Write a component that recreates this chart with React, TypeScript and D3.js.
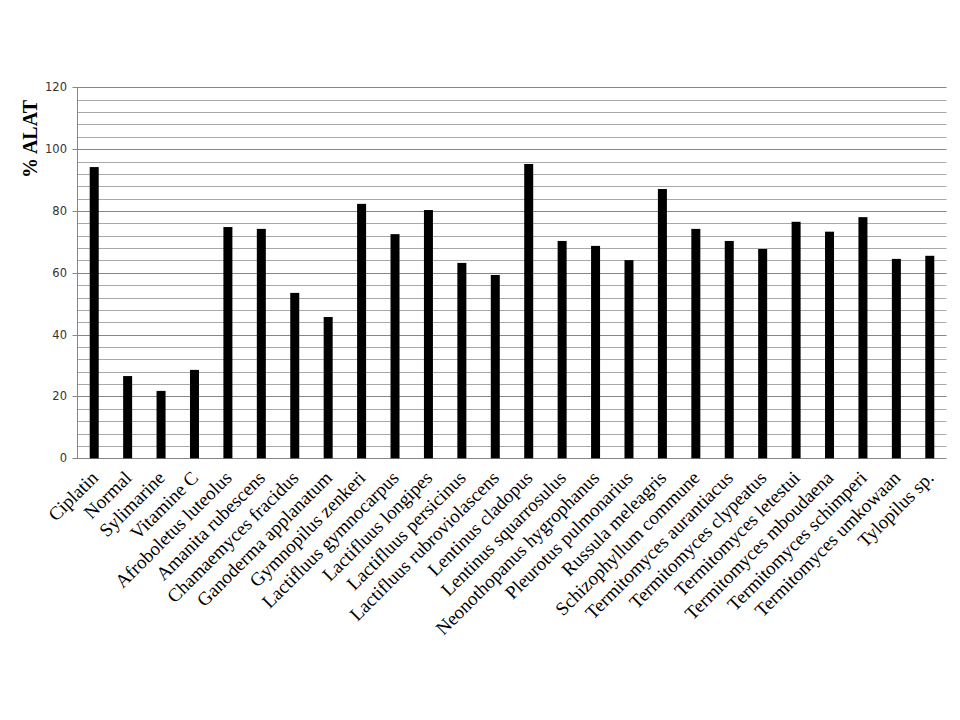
import React from "react";
import * as d3 from "d3";

const categories = [
  "Ciplatin", "Normal", "Sylimarine", "Vitamine C", "Afroboletus luteolus",
  "Amanita rubescens", "Chamaemyces fracidus", "Ganoderma applanatum",
  "Gymnopilus zenkeri", "Lactifluus gymnocarpus", "Lactifluus longipes",
  "Lactifluus persicinus", "Lactifluus rubroviolascens", "Lentinus cladopus",
  "Lentinus squarrosulus", "Neonothopanus hygrophanus", "Pleurotus pulmonarius",
  "Russula meleagris", "Schizophyllum commune", "Termitomyces aurantiacus",
  "Termitomyces clypeatus", "Termitomyces letestui", "Termitomyces mboudaena",
  "Termitomyces schimperi", "Termitomyces umkowaan", "Tylopilus sp.",
];

const values = [
  94.2, 26.6, 21.8, 28.6, 74.8, 74.2, 53.5, 45.7, 82.3, 72.5, 80.3, 63.2, 59.3,
  95.2, 70.3, 68.7, 64.1, 87.1, 74.2, 70.3, 67.7, 76.5, 73.3, 78.0, 64.5, 65.5,
];

const majorTicks = [0, 20, 40, 60, 80, 100, 120];
const minorTicks = d3.range(0, 121, 4).filter((v) => v % 20 !== 0);

const yTitle = "% ALAT";

export default function App() {
  const left = 77.5;
  const right = 946.5;
  const top = 87.3;
  const bottom = 458.3;

  const x = d3.scaleBand<string>().domain(categories).range([left, right]);
  const y = d3.scaleLinear().domain([0, 120]).range([bottom, top]);
  const barW = 9;

  return (
    <svg
      width={960}
      height={720}
      style={{ position: "absolute", left: 0, top: 0, background: "#fff" }}
    >
      <rect x={0} y={0} width={960} height={720} fill="#fff" />
      {minorTicks.map((t) => (
        <line
          key={"m" + t}
          x1={left}
          x2={right}
          y1={Math.round(y(t)) + 0.5}
          y2={Math.round(y(t)) + 0.5}
          stroke="#a8a8a8"
          strokeWidth={1}
        />
      ))}
      {majorTicks.map((t) => (
        <g key={"M" + t}>
          <line
            x1={left - 5}
            x2={right}
            y1={Math.round(y(t)) + 0.5}
            y2={Math.round(y(t)) + 0.5}
            stroke="#868686"
            strokeWidth={1}
          />
          <text
            x={67}
            y={y(t)}
            dy="0.35em"
            textAnchor="end"
            fontFamily="DejaVu Sans, Verdana, sans-serif"
            fontSize={11.5}
            fill="#333"
          >
            {t}
          </text>
        </g>
      ))}
      <line x1={left} x2={left} y1={top} y2={bottom} stroke="#868686" strokeWidth={1} />
      {categories.map((c, i) => {
        const cx = (x(c) as number) + x.bandwidth() / 2;
        return (
          <rect
            key={c}
            x={cx - barW / 2}
            y={y(values[i])}
            width={barW}
            height={bottom - y(values[i])}
            fill="#000"
          />
        );
      })}
      {categories.map((c) => {
        const cx = (x(c) as number) + x.bandwidth() / 2;
        const ax = cx + 5;
        const ay = 479;
        return (
          <text
            key={"l" + c}
            x={ax}
            y={ay}
            transform={`rotate(-45, ${ax}, ${ay})`}
            textAnchor="end"
            fontFamily="Liberation Serif, Times New Roman, serif"
            fontSize={19}
            fill="#000"
          >
            {c}
          </text>
        );
      })}
      <text
        x={0}
        y={0}
        transform={`translate(37, 139) rotate(-90)`}
        textAnchor="middle"
        fontFamily="Liberation Serif, Times New Roman, serif"
        fontWeight="bold"
        fontSize={20}
        fill="#000"
      >
        {yTitle}
      </text>
    </svg>
  );
}
